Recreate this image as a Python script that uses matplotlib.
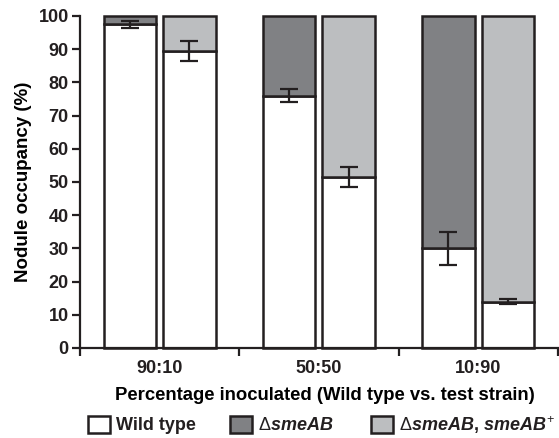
import matplotlib
matplotlib.use('Agg')
import matplotlib.pyplot as plt
from matplotlib.patches import Patch
import numpy as np

# data
groups = ['90:10', '50:50', '10:90']
wt_vs_mut = [97.5, 76, 30]        # wild type share, test = ΔsmeAB
wt_vs_mut_err = [1.0, 2.0, 5.0]
wt_vs_comp = [89.5, 51.5, 14]     # wild type share, test = ΔsmeAB, smeAB+
wt_vs_comp_err = [3.0, 3.0, 0.8]

edge = '#231f20'
c_wt = 'white'
c_mut = '#808184'
c_comp = '#bcbec0'

plt.rcParams['font.family'] = ['Liberation Sans', 'DejaVu Sans']
plt.rcParams['font.weight'] = 'bold'
plt.rcParams['text.color'] = edge
plt.rcParams['xtick.color'] = edge
plt.rcParams['ytick.color'] = edge
plt.rcParams['mathtext.fontset'] = 'custom'
plt.rcParams['mathtext.rm'] = 'Liberation Sans:weight=normal'
plt.rcParams['mathtext.it'] = 'Liberation Sans:italic:bold'

fig = plt.figure(figsize=(5.59, 4.38), dpi=100)
ax = fig.add_axes([0.143, 0.2055, 0.855, 0.758])

x = np.arange(len(groups))
w = 0.33
off = 0.187
lw = 1.8

mut = [100 - v for v in wt_vs_mut]
comp = [100 - v for v in wt_vs_comp]

ax.bar(x - off, wt_vs_mut, w, color=c_wt, edgecolor=edge, linewidth=lw, clip_on=False)
ax.bar(x - off, mut, w, bottom=wt_vs_mut, color=c_mut, edgecolor=edge, linewidth=lw, clip_on=False)
ax.bar(x + off, wt_vs_comp, w, color=c_wt, edgecolor=edge, linewidth=lw, clip_on=False)
ax.bar(x + off, comp, w, bottom=wt_vs_comp, color=c_comp, edgecolor=edge, linewidth=lw, clip_on=False)

ax.errorbar(x - off, wt_vs_mut, yerr=wt_vs_mut_err, fmt='none', ecolor=edge, elinewidth=1.6, capsize=6.5, capthick=1.6)
ax.errorbar(x + off, wt_vs_comp, yerr=wt_vs_comp_err, fmt='none', ecolor=edge, elinewidth=1.6, capsize=6.5, capthick=1.6)

ax.set_xlim(-0.5, 2.5)
ax.set_ylim(0, 100)
ax.set_yticks(range(0, 101, 10))
ax.tick_params(axis='y', labelsize=13, width=1.6, length=6, pad=2)
ax.set_xticks([-0.5, 0.5, 1.5, 2.5])
ax.set_xticklabels([])
ax.set_xticks(x, minor=True)
ax.set_xticklabels(groups, minor=True, fontsize=13, fontweight='bold')
ax.tick_params(axis='x', which='major', width=1.6, length=6, direction='out')
ax.tick_params(axis='x', which='minor', length=0, pad=9)
for s in ['top', 'right']:
    ax.spines[s].set_visible(False)
for s in ['left', 'bottom']:
    ax.spines[s].set_linewidth(1.6)
    ax.spines[s].set_color(edge)

ax.set_ylabel('Nodule occupancy (%)', fontsize=13.5, fontweight='bold', labelpad=5)
ax.set_xlabel('Percentage inoculated (Wild type vs. test strain)', fontsize=13.3, fontweight='bold')
ax.xaxis.set_label_coords(0.512, -0.118)

# legend entries placed one by one (uneven spacing as in the original)
entries = [('Wild type', c_wt, 88),
           (r'$\Delta\mathit{smeAB}$', c_mut, 230),
           (r'$\Delta\mathit{smeAB}$, $\mathit{smeAB^{+}}$', c_comp, 371)]
for label, col, xpix in entries:
    h = Patch(facecolor=col, edgecolor=edge, linewidth=1.8)
    fig.legend([h], [label], loc='center left', bbox_to_anchor=(xpix / 559, 1 - 425 / 438),
               frameon=False, borderpad=0, borderaxespad=0, handlelength=1.2, handleheight=1.1,
               handletextpad=0.35, prop={'weight': 'bold', 'size': 13})

fig.savefig('out.png', dpi=100)
